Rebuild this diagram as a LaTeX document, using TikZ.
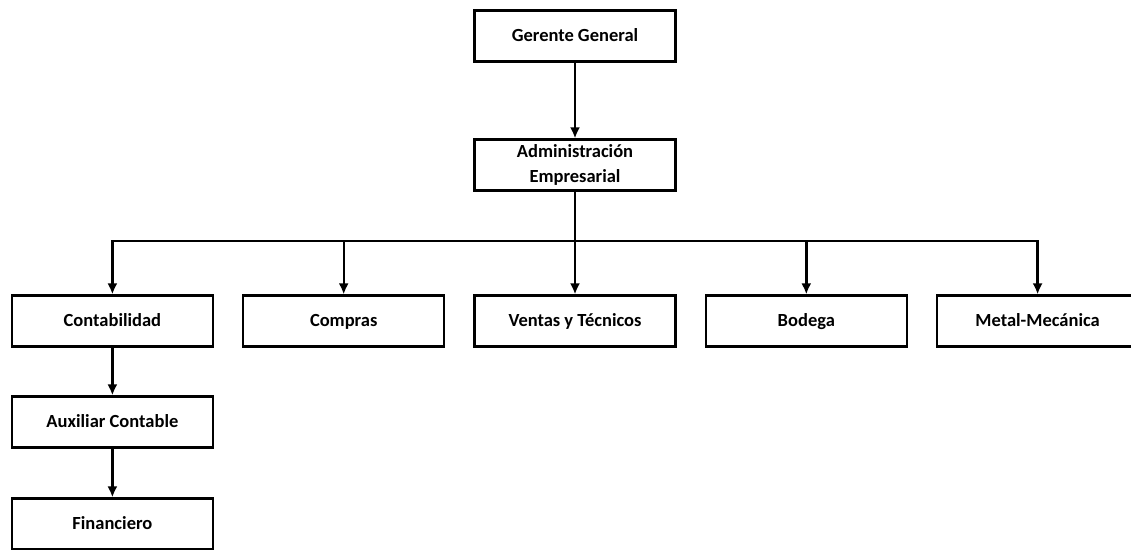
\documentclass[tikz,border=0pt]{standalone}
\usepackage{fontspec}
\setmainfont{Carlito}
\usetikzlibrary{arrows.meta, positioning}
\tikzstyle{every node}=[font=\fontsize{18.5}{25}\selectfont\bfseries]
\tikzstyle{block} = [rectangle, draw, line width=2.2pt, align=center, minimum width=201pt, minimum height=51pt, inner sep=2pt, text height=14pt, text depth=3pt]
\tikzstyle{line} = [draw, line width=2.4pt, -{Latex[length=11pt, width=10pt]}]

\begin{document}
\begin{tikzpicture}[x=1pt, y=1pt]
    \useasboundingbox (0,0) rectangle (1131,-549);
    % Place nodes
    \node [block] (gerente) at (575,-36) {Gerente General};
    \node [block, below of=gerente, node distance=129pt, text height=, text depth=] (admin) {Administración\\Empresarial};
    \coordinate [below of=admin, node distance=76pt] (bus);
    \node [block, below of=admin, node distance=156pt] (ventas) {Ventas y Técnicos};
    \node [block, left of=ventas, node distance=231.3pt] (compras) {Compras};
    \node [block, left of=compras, node distance=231.3pt] (conta) {Contabilidad};
    \node [block, right of=ventas, node distance=231.3pt] (bodega) {Bodega};
    \node [block, right of=bodega, node distance=231.3pt] (metal) {Metal-Mecánica};
    \node [block, below of=conta, node distance=101pt] (auxiliar) {Auxiliar Contable};
    \node [block, below of=auxiliar, node distance=102pt] (financiero) {Financiero};
    % Draw edges
    \path [line] (gerente) -- (admin);
    \draw [line width=2.4pt] (admin) -- (bus);
    \draw [line width=2.4pt, line cap=rect] (bus -| conta) -- (bus -| metal);
    \path [line] (bus -| conta) -- (conta);
    \path [line] (bus -| compras) -- (compras);
    \path [line] (bus) -- (ventas);
    \path [line] (bus -| bodega) -- (bodega);
    \path [line] (bus -| metal) -- (metal);
    \path [line] (conta) -- (auxiliar);
    \path [line] (auxiliar) -- (financiero);
\end{tikzpicture}
\end{document}
